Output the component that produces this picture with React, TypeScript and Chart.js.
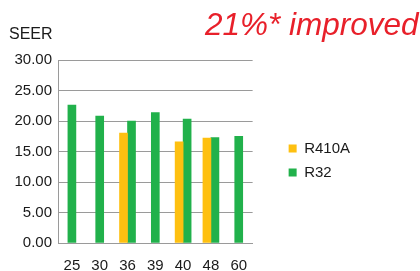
import React, { useEffect, useRef } from "react";
import { Chart, registerables } from "chart.js";

Chart.register(...registerables);

const categories = ["25", "30", "36", "39", "40", "48", "60"];
const r410aValues = [null, null, 18.0, null, 16.6, 17.2, null];
const r32Values = [22.6, 20.8, 20.0, 21.4, 20.3, 17.3, 17.5];
const seriesNames = ["R410A", "R32"];
const axisTitle = "SEER";
const headline = "21%* improved";

const FONT = "'Liberation Sans', Arial, Helvetica, sans-serif";

const textPlugin = {
  id: "textPlugin",
  afterDraw(chart: any) {
    const ctx = chart.ctx;
    ctx.save();
    ctx.fillStyle = "#1a1a1a";
    ctx.font = `16px ${FONT}`;
    ctx.textAlign = "left";
    ctx.textBaseline = "alphabetic";
    ctx.fillText(axisTitle, 9, 39);
    ctx.fillStyle = "#e8202a";
    ctx.font = `italic 31.5px ${FONT}`;
    ctx.fillText(headline, 205, 35);
    ctx.restore();
  },
};

export default function App() {
  const ref = useRef<HTMLCanvasElement>(null);
  useEffect(() => {
    if (!ref.current) return;
    const chart = new Chart(ref.current, {
      type: "bar",
      data: {
        labels: categories,
        datasets: [
          {
            label: seriesNames[0],
            data: r410aValues as any,
            backgroundColor: "#fec010",
            barThickness: 8,
            skipNull: true,
          } as any,
          {
            label: seriesNames[1],
            data: r32Values,
            backgroundColor: "#21b14b",
            barThickness: 8,
            skipNull: true,
          } as any,
        ],
      },
      options: {
        responsive: false,
        animation: false,
        layout: { padding: { left: 8, top: 60, right: 60, bottom: 0 } },
        plugins: {
          legend: {
            position: "right",
            fullSize: false,
            maxWidth: 200,
            title: { display: true, text: " ", padding: 0, font: { family: FONT, size: 15 } },
            labels: {
              boxWidth: 8,
              boxHeight: 8,
              padding: 9,
              color: "#1a1a1a",
              font: { family: FONT, size: 15 },
            },
          },
          tooltip: { enabled: false },
          title: { display: false },
        },
        scales: {
          x: {
            grid: { display: false },
            border: { display: true, color: "#9a9a9a" },
            ticks: {
              color: "#1a1a1a",
              font: { family: FONT, size: 15 },
              maxRotation: 0,
              autoSkip: false,
              padding: 6,
            },
            afterFit(s: any) {
              s.height = 28;
            },
          },
          y: {
            min: 0,
            max: 30,
            grid: { color: "#9a9a9a", drawTicks: false, lineWidth: 1 },
            border: { display: true, color: "#9a9a9a" },
            ticks: {
              stepSize: 5,
              color: "#1a1a1a",
              font: { family: FONT, size: 15 },
              padding: 6,
              callback: (v: any) => Number(v).toFixed(2),
            },
            afterFit(s: any) {
              s.width = 50;
            },
          },
          gap: {
            position: "right",
            display: true,
            grid: { display: false },
            border: { display: false },
            ticks: { display: false },
            afterFit(s: any) {
              s.width = 27;
            },
          },
        },
      } as any,
      plugins: [textPlugin],
    });
    return () => chart.destroy();
  }, []);
  return (
    <div style={{ position: "fixed", left: 0, top: 0, width: 420, height: 271 }}>
      <canvas ref={ref} width={420} height={271} style={{ width: 420, height: 271 }} />
    </div>
  );
}
